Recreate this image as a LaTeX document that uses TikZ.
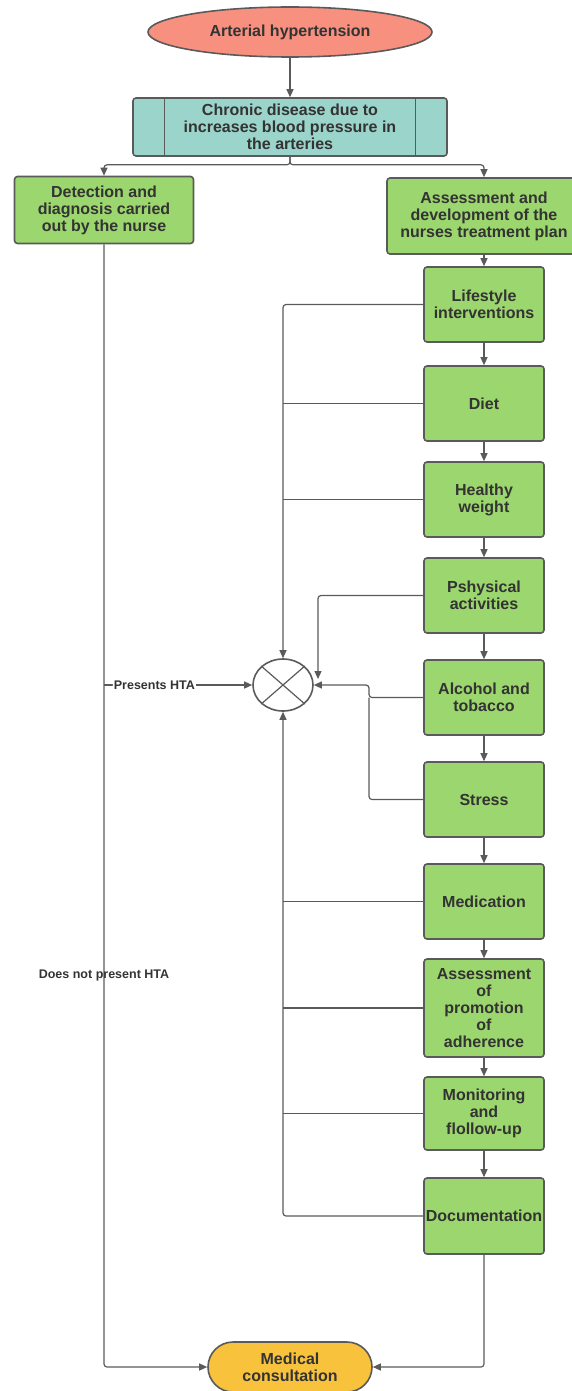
\documentclass[tikz,border=0pt]{standalone}
\usepackage{fontspec}
\setmainfont{Liberation Sans}
\usetikzlibrary{shapes.geometric,shapes.misc,arrows.meta}
\definecolor{salmon}{HTML}{F8907F}
\definecolor{teal2}{HTML}{9BD4CA}
\definecolor{grn}{HTML}{9CD66E}
\definecolor{orng}{HTML}{F8C23C}
\definecolor{bord}{HTML}{5A5A5A}
\definecolor{txt}{HTML}{333333}
\tikzset{
  base/.style={draw=bord, line width=1.6pt, text=txt, font=\fontsize{16}{17}\selectfont\bfseries, align=center, inner sep=0pt},
  gbox/.style={base, rectangle, rounded corners=3pt, fill=grn, minimum width=120pt},
  conn/.style={draw=bord, line width=1.2pt, rounded corners=3pt},
  arr/.style={conn, -{Triangle[length=8pt,width=7pt]}},
  lbl/.style={text=txt, font=\fontsize{12.5}{14}\selectfont\bfseries, inner sep=1pt}
}
\begin{document}
\begin{tikzpicture}[x=1pt,y=-1pt]
\useasboundingbox (0,0) rectangle (571,1391);
% top
\node[base, ellipse, fill=salmon, minimum width=284pt, minimum height=50pt] (top) at (290,32) {Arterial hypertension};
\node[base, rectangle, rounded corners=3pt, fill=teal2, minimum width=314pt, minimum height=58pt] (chronic) at (290,127) {Chronic disease due to\\increases blood pressure in\\the arteries};
\draw[conn] ([xshift=32pt]chronic.north west) -- ([xshift=32pt]chronic.south west);
\draw[conn] ([xshift=-32pt]chronic.north east) -- ([xshift=-32pt]chronic.south east);
\node[gbox, minimum width=179pt, minimum height=67pt] (detect) at (104,210) {Detection and\\diagnosis carried\\out by the nurse};
\node[gbox, minimum width=194pt, minimum height=76pt] (plan) at (484,216) {Assessment and\\development of the\\nurses treatment plan};
% right column
\node[gbox, minimum height=75pt] (life) at (484,304.5) {Lifestyle\\interventions};
\node[gbox, minimum height=75pt] (diet) at (484,403.5) {Diet};
\node[gbox, minimum height=75pt] (weight) at (484,499.5) {Healthy\\weight};
\node[gbox, minimum height=75pt] (phys) at (484,595.5) {Pshysical\\activities};
\node[gbox, minimum height=75pt] (alc) at (484,697.5) {Alcohol and\\tobacco};
\node[gbox, minimum height=75pt] (stress) at (484,799.5) {Stress};
\node[gbox, minimum height=75pt] (medic) at (484,901.5) {Medication};
\node[gbox, minimum height=98pt] (adh) at (484,1008) {Assessment\\of\\promotion\\of\\adherence};
\node[gbox, minimum height=73pt] (mon) at (484,1113.5) {Monitoring\\and\\flollow-up};
\node[gbox, minimum height=76pt] (doc) at (484,1216) {Documentation};
% sum
\node[draw=bord, line width=1.6pt, ellipse, minimum width=60pt, minimum height=52pt, inner sep=0pt] (sum) at (283,685) {};
\draw[conn] (sum.north west) -- (sum.south east);
\draw[conn] (sum.north east) -- (sum.south west);
% final
\node[base, rounded rectangle, fill=orng, minimum width=164pt, minimum height=50pt] (medc) at (290,1367) {Medical\\consultation};
% coordinates
\coordinate (split) at (104,685);
\coordinate (jdiet) at (283,403.5);
\coordinate (jweight) at (283,499.5);
\coordinate (jphys) at (318,679);
\coordinate (jalc) at (369,697.5);
\coordinate (jmed) at (283,901.5);
\coordinate (jadh) at (283,1008);
\coordinate (jmon) at (283,1113.5);
% connectors
\draw[arr] (top) -- (chronic);
\draw[arr] (chronic.south) -- ++(0,8) -| (detect.north);
\draw[arr] (chronic.south) -- ++(0,8) -| (plan.north);
\draw[arr] (plan.south -| life.north) -- (life.north);
\draw[arr] (life) -- (diet);
\draw[arr] (diet) -- (weight);
\draw[arr] (weight) -- (phys);
\draw[arr] (phys) -- (alc);
\draw[arr] (alc) -- (stress);
\draw[arr] (stress) -- (medic);
\draw[arr] (medic) -- (adh);
\draw[arr] (adh) -- (mon);
\draw[arr] (mon) -- (doc);
% feedback
\draw[arr] (life.west) -| (sum.north);
\draw[conn] (diet.west) -- (jdiet);
\draw[conn] (weight.west) -- (jweight);
\draw[arr] (phys.west) -| (jphys);
\draw[arr] (alc.west) -- (jalc) |- (sum.east);
\draw[conn] (stress.west) -| (jalc);
\draw[arr] (doc.west) -| (sum.south);
\draw[conn] (medic.west) -- (jmed);
\draw[conn] (adh.west) -- (jadh);
\draw[conn] (mon.west) -- (jmon);
% left
\draw[arr] (detect.south) |- (medc.west);
\draw[arr] (split) -- node[lbl, fill=white, pos=0.34] {Presents HTA} (sum.west);
\draw[arr] (doc.south) |- (medc.east);
\node[lbl] (nohta) at (104,975) {Does not present HTA};
\end{tikzpicture}
\end{document}
